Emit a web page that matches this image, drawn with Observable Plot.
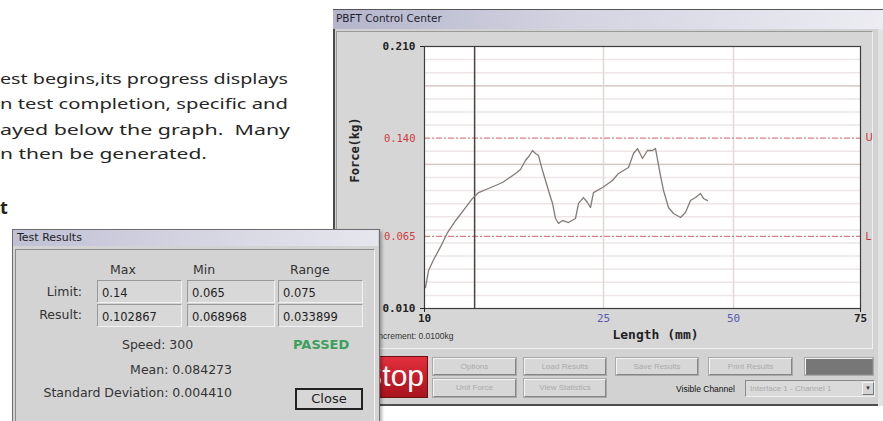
<!DOCTYPE html>
<html><head><meta charset="utf-8">
<script src="https://cdn.jsdelivr.net/npm/d3@7"></script>
<script src="https://cdn.jsdelivr.net/npm/@observablehq/plot@0.6"></script>
<style>
html,body{margin:0;padding:0;background:#fff;width:883px;height:421px;overflow:hidden;position:relative;font-family:"DejaVu Sans",sans-serif;}
.abs{position:absolute;white-space:nowrap;}
.para{font-family:"Noto Sans",sans-serif;font-size:15px;line-height:20px;color:#262626;transform-origin:left center;}
.btn{position:absolute;box-sizing:border-box;background:#d7d7d7;border:1px solid;border-color:#f4f4f4 #858585 #858585 #f4f4f4;outline:1px solid #a9a9a9;font-family:"Liberation Sans",sans-serif;font-size:8px;color:#aaaaaa;text-align:center;}
.fld{position:absolute;box-sizing:border-box;background:#d8d8d8;border:1px solid;border-color:#999 #f2f2f2 #f2f2f2 #999;font-size:11.5px;padding-left:4px;color:#222;line-height:24px;}
.dlg{font-family:"DejaVu Sans",sans-serif;color:#333;}
</style></head><body>

<!-- left page text -->
<div class="abs para fit" data-w="288" style="left:0;top:68px;">est begins,its progress displays</div>
<div class="abs para fit" data-w="288" style="left:0;top:93px;">n test completion, specific and</div>
<div class="abs para fit" data-w="290" style="left:0;top:119px;">ayed below the graph.&nbsp; Many</div>
<div class="abs para fit" data-w="207" style="left:0;top:143px;">n then be generated.</div>
<div class="abs" style="left:0;top:195px;font-family:'Noto Sans',sans-serif;font-weight:bold;font-size:18px;color:#222;">t</div>

<!-- application window -->
<div class="abs" style="left:333px;top:9px;width:545px;height:397px;background:#d2d2d2;border-left:2px solid #4a4a4a;border-right:1px solid #6a6a6a;"></div>
<div class="abs" style="left:878px;top:9px;width:5px;height:397px;background:#e2e2e2;"></div>
<div class="abs" style="left:333px;top:9px;width:550px;height:19px;background:linear-gradient(to right,#b4b4cc,#d4d4e2 45%,#ececf2);border-top:1px solid #555;"></div>
<div class="abs" style="left:336px;top:12px;font-size:10.5px;color:#1e1e2a;">PBFT Control Center</div>
<div class="abs" style="left:336px;top:31px;width:535px;height:316px;background:#d6d6d6;border:1px solid;border-color:#9a9a9a #f0f0f0 #f0f0f0 #9a9a9a;"></div>
<div class="abs" id="chart" style="left:340px;top:33px;"></div>
<div class="abs" style="left:376px;top:331px;font-family:'Liberation Sans',sans-serif;font-size:8.5px;color:#333;">Increment: 0.0100kg</div>

<!-- buttons -->
<div class="abs" style="left:345px;top:356px;width:83px;height:42px;box-sizing:border-box;background:linear-gradient(#e3303e,#c01c28 60%,#a8141e);border:1px solid #6a1010;color:#fff;font-family:'Liberation Sans',sans-serif;font-size:30px;line-height:38px;text-align:right;padding-right:3px;">Stop</div>
<div class="btn" style="left:433px;top:358px;width:83px;height:17px;line-height:15px;">Options</div>
<div class="btn" style="left:524px;top:358px;width:82px;height:17px;line-height:15px;">Load Results</div>
<div class="btn" style="left:616px;top:358px;width:82px;height:17px;line-height:15px;">Save Results</div>
<div class="btn" style="left:709px;top:358px;width:83px;height:17px;line-height:15px;">Print Results</div>
<div class="btn" style="left:805px;top:358px;width:68px;height:17px;background:#777;"></div>
<div class="btn" style="left:433px;top:379px;width:83px;height:18px;line-height:16px;">Unit Force</div>
<div class="btn" style="left:524px;top:379px;width:82px;height:18px;line-height:16px;">View Statistics</div>
<div class="abs" style="left:676px;top:384px;font-family:'Liberation Sans',sans-serif;font-size:8.5px;color:#111;">Visible Channel</div>
<div class="abs" style="left:745px;top:380px;width:130px;height:17px;box-sizing:border-box;background:#dadada;border:1px solid;border-color:#8a8a8a #f0f0f0 #f0f0f0 #8a8a8a;font-family:'Liberation Sans',sans-serif;font-size:8px;color:#aaa;line-height:15px;padding-left:4px;">Interface 1 - Channel 1</div>
<div class="abs" style="left:862px;top:382px;width:12px;height:13px;box-sizing:border-box;background:#d4d4d4;border:1px solid;border-color:#f4f4f4 #777 #777 #f4f4f4;font-size:7px;line-height:11px;text-align:center;color:#333;">▾</div>
<div class="abs" style="left:380px;top:404px;width:498px;height:2px;background:#4e4e4e;"></div>
<div class="abs" style="left:333px;top:406px;width:550px;height:15px;background:#fff;"></div>

<!-- Test Results dialog -->
<div class="abs" style="left:12px;top:229px;width:366px;height:200px;background:#d3d3d3;border:1px solid #6e6e6e;box-shadow:2px 2px 3px rgba(0,0,0,0.3);"></div>
<div class="abs" style="left:13px;top:230px;width:365px;height:16px;background:linear-gradient(to right,#c0c0d6,#d8d8e4 60%,#e6e6ee);"></div>
<div class="abs dlg" style="left:17px;top:231px;font-size:11px;color:#222;">Test Results</div>
<div class="abs" style="left:15px;top:249px;width:358px;height:180px;border:1px solid;border-color:#8a8a8a #f2f2f2 #f2f2f2 #8a8a8a;"></div>
<div class="abs dlg" style="left:110px;top:262px;font-size:12.5px;">Max</div>
<div class="abs dlg" style="left:193px;top:262px;font-size:12.5px;">Min</div>
<div class="abs dlg" style="left:290px;top:262px;font-size:12.5px;">Range</div>
<div class="abs dlg" style="left:12px;top:284px;width:70px;text-align:right;font-size:12.5px;">Limit:</div>
<div class="abs dlg" style="left:12px;top:307px;width:70px;text-align:right;font-size:12.5px;">Result:</div>
<div class="fld" style="left:97px;top:280px;width:85px;height:23px;">0.14</div>
<div class="fld" style="left:187px;top:280px;width:88px;height:23px;">0.065</div>
<div class="fld" style="left:278px;top:280px;width:85px;height:23px;">0.075</div>
<div class="fld" style="left:97px;top:304px;width:85px;height:23px;">0.102867</div>
<div class="fld" style="left:187px;top:304px;width:88px;height:23px;">0.068968</div>
<div class="fld" style="left:278px;top:304px;width:85px;height:23px;">0.033899</div>
<div class="abs dlg" style="left:122px;top:337px;font-size:12.5px;">Speed: 300</div>
<div class="abs dlg" style="left:293px;top:337px;font-size:13px;font-weight:bold;color:#3ca05a;">PASSED</div>
<div class="abs dlg" style="left:12px;top:362px;width:220px;text-align:right;font-size:12.5px;">Mean: 0.084273</div>
<div class="abs dlg" style="left:12px;top:385px;width:220px;text-align:right;font-size:12.5px;">Standard Deviation: 0.004410</div>
<div class="abs dlg" style="left:295px;top:388px;width:68px;height:22px;box-sizing:border-box;border:2px solid #222;background:#d6d6d6;font-size:13px;line-height:18px;text-align:center;color:#222;">Close</div>

<script>
// ---- data ----
const lengthMm = [10.08, 10.34, 10.75, 11.34, 11.93, 12.60, 13.44, 14.02, 14.53, 15.36, 16.54, 17.63, 18.04, 18.46, 18.80, 19.05, 19.30, 19.55, 19.89, 20.39, 20.73, 20.98, 21.23, 21.56, 22.07, 22.65, 22.91, 23.32, 23.66, 23.91, 24.16, 24.92, 26.73, 27.88, 29.81, 30.77, 31.54, 32.50, 33.46, 34.42, 35.00, 35.96, 36.54, 37.50, 38.46, 39.81, 40.77, 41.73, 42.69, 43.65, 44.23, 45.00];
const forceKg = [0.026, 0.039, 0.047, 0.057, 0.068, 0.077, 0.087, 0.094, 0.0985, 0.1016, 0.1062, 0.1131, 0.1161, 0.123, 0.1268, 0.1306, 0.1283, 0.1268, 0.1153, 0.1001, 0.0902, 0.0787, 0.0749, 0.0772, 0.0756, 0.0787, 0.0902, 0.0947, 0.0909, 0.0871, 0.0985, 0.1024, 0.1077, 0.1131, 0.1176, 0.1283, 0.1321, 0.1245, 0.1306, 0.1306, 0.1321, 0.1115, 0.1001, 0.0871, 0.0825, 0.0795, 0.0833, 0.0924, 0.0947, 0.0978, 0.094, 0.0924];
const xTickValues = [10, 25, 50, 75];
const xTickBold = [10, 75];
const xTickLight = [25, 50];
const yTickValues = [0.210, 0.010];
const limitValues = [0.140, 0.065];
const limitLetters = ["U", "L"];
const gridLines = [0.02, 0.03, 0.04, 0.05, 0.06, 0.07, 0.08, 0.09, 0.10, 0.11, 0.12, 0.13, 0.15, 0.16, 0.17, 0.18, 0.19, 0.20];
const gridMajor = [0.12, 0.18];
const cursorMm = [14.2];
const yLabel = "Force(kg)";
const xLabel = "Length (mm)";

const series = lengthMm.map((x, i) => ({x, y: forceKg[i]}));
const limits = limitValues.map((v, i) => ({v, label: limitLetters[i]}));
const mono = "'DejaVu Sans Mono', monospace";
const f3 = d3.format(".3f");

const chart = Plot.plot({
  width: 535, height: 315,
  marginLeft: 84, marginRight: 15, marginTop: 13, marginBottom: 40,
  style: {background: "transparent", overflow: "visible"},
  x: {type: "linear", domain: xTickValues, range: [84, 263, 393, 520], axis: null},
  y: {domain: [0.01, 0.21], axis: null},
  marks: [
    Plot.frame({fill: "#ffffff", stroke: null}),
    Plot.ruleY(gridLines, {stroke: "#ede6e6", strokeWidth: 1.5}),
    Plot.ruleY(gridMajor, {stroke: "#d6c6c2", strokeWidth: 1.2}),
    Plot.ruleX(xTickLight, {stroke: "#e2d8d6", strokeWidth: 1.5}),
    Plot.ruleY(limits, {y: "v", stroke: "#d88080", strokeWidth: 1.3, strokeDasharray: "6,2,2,2"}),
    Plot.ruleX(cursorMm, {stroke: "#4f4040", strokeWidth: 1.5}),
    Plot.line(series, {x: "x", y: "y", stroke: "#857b77", strokeWidth: 1.3}),
    Plot.frame({stroke: "#3d3d3d", strokeWidth: 1.2}),
    Plot.axisY(yTickValues, {tickSize: 4, tickPadding: 5, tickFormat: f3, fontFamily: mono, fontWeight: "bold", fontSize: 11, color: "#222", label: null}),
    Plot.axisY(limitValues, {tickSize: 0, tickPadding: 9, tickFormat: f3, fontFamily: mono, fontSize: 10.5, color: "#d03c3c", label: null}),
    Plot.axisX(xTickBold, {tickSize: 4, tickPadding: 2, fontFamily: mono, fontWeight: "bold", fontSize: 11, color: "#222", label: null}),
    Plot.axisX(xTickLight, {tickSize: 0, tickPadding: 6, fontFamily: mono, fontSize: 11, color: "#5a5ab0", label: null}),
    Plot.text(limits, {y: "v", text: "label", frameAnchor: "right", textAnchor: "start", dx: 5, fill: "#d03030", fontSize: 10, fontFamily: "DejaVu Sans"}),
    Plot.text([yLabel], {text: d => d, frameAnchor: "left", rotate: -90, dx: -69, dy: 5, fontFamily: mono, fontWeight: "bold", fontSize: 12, fill: "#222"}),
    Plot.text([xLabel], {text: d => d, frameAnchor: "bottom", dx: 13, dy: 30, fontFamily: mono, fontWeight: "bold", fontSize: 13, fill: "#222"})
  ]
});
document.getElementById("chart").appendChild(chart);

document.querySelectorAll(".fit").forEach(el => {
  const w = +el.dataset.w;
  const a = el.getBoundingClientRect().width;
  if (a > 0) el.style.transform = `scaleX(${w / a})`;
});
</script>
</body></html>
